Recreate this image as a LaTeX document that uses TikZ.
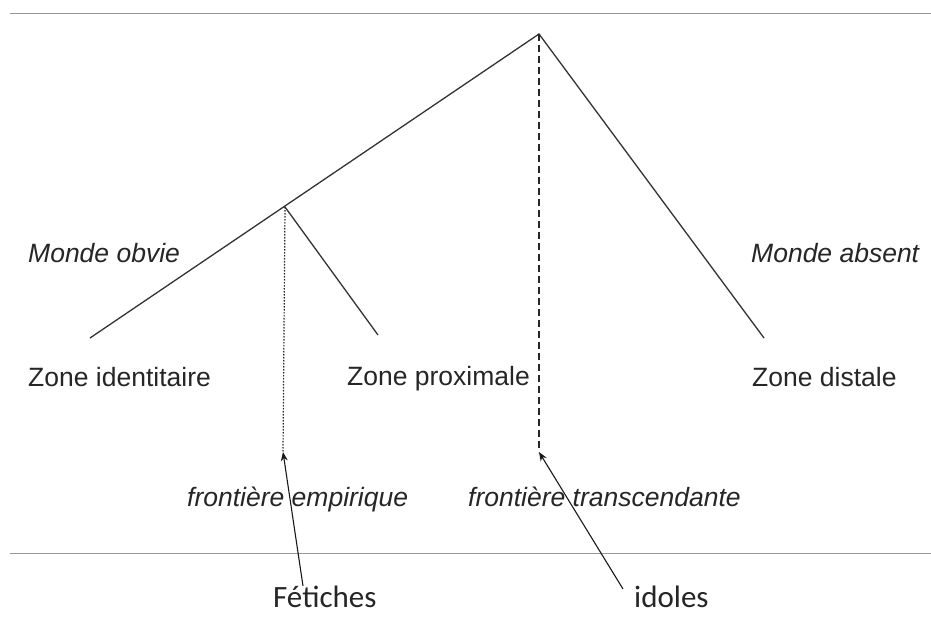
\documentclass[tikz,border=0pt]{standalone}
\usepackage{fontspec}
\setmainfont{Liberation Sans}
\newfontfamily\calib{Carlito}
\usetikzlibrary{arrows.meta}
\begin{document}
\begin{tikzpicture}[x=1pt,y=-1pt,
  rule/.style={draw=black!40,line width=0.9pt},
  branch/.style={draw=black!80,line width=1.3pt},
  lbl/.style={inner sep=0pt,anchor=base west,font=\fontsize{26.5}{30}\selectfont,text=black!85},
  ilbl/.style={lbl,font=\fontsize{26.5}{30}\selectfont\itshape},
  clbl/.style={inner sep=0pt,anchor=base west,font=\calib\fontsize{31}{34}\selectfont,text=black!85},
  pointer/.style={draw=black!90,line width=1.1pt,-{Stealth[length=9pt,width=7pt]}}]
\useasboundingbox (0,0) rectangle (931,618);
\fill[white] (0,0) rectangle (931,618);
% horizontal rules
\coordinate (tl) at (10,13); \coordinate (tr) at (931,13);
\coordinate (bl) at (10,553); \coordinate (br) at (931,553);
\draw[rule] (tl) -- (tr);
\draw[rule] (bl) -- (br);
% tree
\coordinate (apex) at (539,34);
\coordinate (left) at (90,338);
\coordinate (fork) at (285,207);
\coordinate (prox) at (378,335);
\coordinate (right) at (764,338);
\coordinate (dotend) at (283,452);
\coordinate (dashend) at (539,452);
\draw[branch] (left) -- (apex) -- (right);
\draw[branch] (fork) -- (prox);
\draw[black!85,line width=1.2pt,dash pattern=on 1.5pt off 1.5pt] (fork) -- (dotend);
\draw[black!85,line width=1.3pt,dash pattern=on 7pt off 4pt] (apex) -- (dashend);
% labels
\node[ilbl] (mobv) at (28,262) {Monde obvie};
\node[ilbl] (mabs) at (751,262) {Monde absent};
\node[lbl] (zid) at (28,386) {Zone identitaire};
\node[lbl] (zpr) at (347,385) {Zone proximale};
\node[lbl] (zdi) at (752,386) {Zone distale};
\node[ilbl] (femp) at (187,506) {frontière empirique};
\node[ilbl] (ftra) at (468,506) {frontière transcendante};
\node[clbl] (fet) at (273,607) {Fétiches};
\node[clbl] (ido) at (634,607) {idoles};
% pointers
\coordinate (fettail) at (303,586);
\coordinate (idotail) at (623,589);
\draw[pointer] (fettail) -- (dotend);
\draw[pointer] (idotail) -- (dashend);
\end{tikzpicture}
\end{document}
